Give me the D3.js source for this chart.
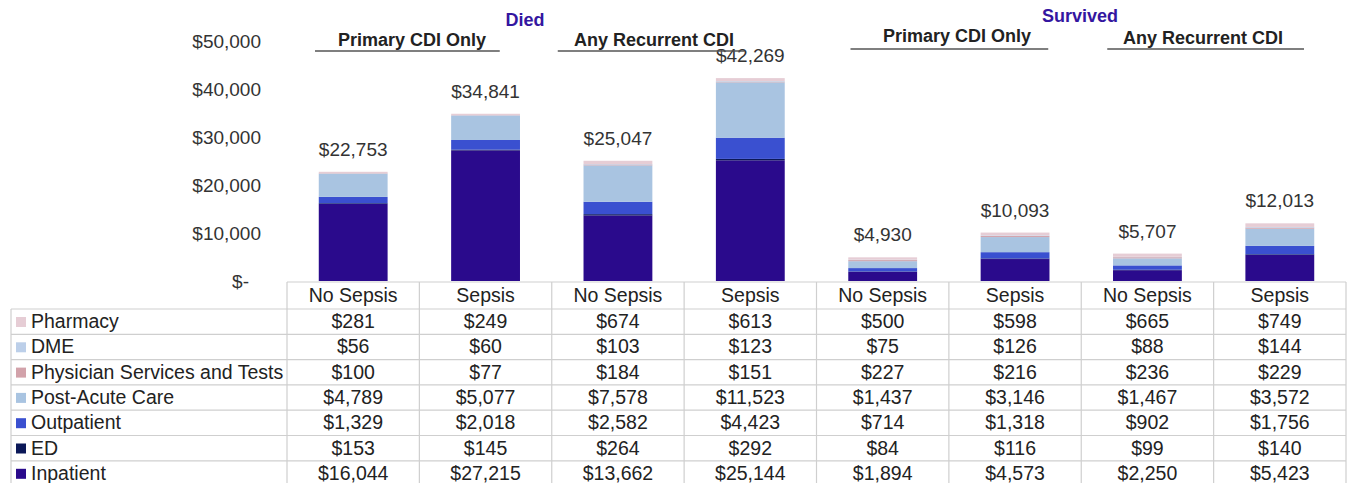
<!DOCTYPE html>
<html>
<head>
<meta charset="utf-8">
<script src="https://cdn.jsdelivr.net/npm/d3@7"></script>
<style>
  body { margin: 0; background: #fff; }
  svg text { font-family: "Liberation Sans", Arial, sans-serif; }
</style>
</head>
<body>
<div id="chart"></div>
<script>
// columns (bars), left to right
var categories = ["No Sepsis", "Sepsis", "No Sepsis", "Sepsis", "No Sepsis", "Sepsis", "No Sepsis", "Sepsis"];
var outcomes = ["Died", "Survived"];
var cdiGroups = ["Primary CDI Only", "Any Recurrent CDI", "Primary CDI Only", "Any Recurrent CDI"];

// cost components, in table order (top row first)
var seriesNames = ["Pharmacy", "DME", "Physician Services and Tests", "Post-Acute Care", "Outpatient", "ED", "Inpatient"];
var pharmacy   = [281, 249, 674, 613, 500, 598, 665, 749];
var dme        = [56, 60, 103, 123, 75, 126, 88, 144];
var physician  = [100, 77, 184, 151, 227, 216, 236, 229];
var postAcute  = [4789, 5077, 7578, 11523, 1437, 3146, 1467, 3572];
var outpatient = [1329, 2018, 2582, 4423, 714, 1318, 902, 1756];
var ed         = [153, 145, 264, 292, 84, 116, 99, 140];
var inpatient  = [16044, 27215, 13662, 25144, 1894, 4573, 2250, 5423];
var totals     = [22753, 34841, 25047, 42269, 4930, 10093, 5707, 12013];
var yTicks     = [0, 10000, 20000, 30000, 40000, 50000];

var seriesValues = [pharmacy, dme, physician, postAcute, outpatient, ed, inpatient];
var colors = ["#e6cdd5", "#bccfe9", "#d2a2aa", "#a9c4e1", "#3a50d0", "#0b1858", "#2a0a8c"];

var width = 1347, height = 483;

var svg = d3.select("#chart").append("svg")
    .attr("width", width)
    .attr("height", height);

var x = d3.scaleBand()
    .domain(d3.range(categories.length))
    .range([287, 1346]);

var y = d3.scaleLinear()
    .domain([0, 50000])
    .range([281, 41]);

var barW = x.bandwidth() * 0.52;

// build stack table
var rows = categories.map(function(c, i) {
    var r = { i: i };
    seriesNames.forEach(function(s, k) { r[s] = seriesValues[k][i]; });
    return r;
});
var stackKeys = seriesNames.slice().reverse(); // Inpatient at bottom
var stacked = d3.stack().keys(stackKeys)(rows);

// y axis
var yAxis = svg.append("g")
    .attr("transform", "translate(264,0)")
    .call(d3.axisLeft(y).tickValues(yTicks).tickSize(0)
        .tickFormat(function(d) { return d === 0 ? "$-" : "$" + d3.format(",")(d); }));
yAxis.select(".domain").remove();
yAxis.selectAll("text")
    .attr("font-size", 19)
    .attr("fill", "#333")
    .attr("dx", function(d) { return d === 0 ? -12 : 0; })
    .attr("font-family", "Liberation Sans, Arial, sans-serif");

// bars
svg.append("g").selectAll("g")
    .data(stacked)
    .enter().append("g")
    .attr("fill", function(d) { return colors[seriesNames.indexOf(d.key)]; })
    .selectAll("rect")
    .data(function(d) { return d; })
    .enter().append("rect")
    .attr("x", function(d) { return x(d.data.i) + (x.bandwidth() - barW) / 2; })
    .attr("width", barW)
    .attr("y", function(d) { return y(d[1]); })
    .attr("height", function(d) { return y(d[0]) - y(d[1]); });

// totals
svg.append("g").selectAll("text")
    .data(totals)
    .enter().append("text")
    .attr("x", function(d, i) { return x(i) + x.bandwidth() / 2; })
    .attr("y", function(d) { return y(d) - 16; })
    .attr("text-anchor", "middle")
    .attr("font-size", 19)
    .attr("fill", "#333")
    .text(function(d) { return "$" + d3.format(",")(d); });

// group headings
var headLayout = [
    { l: 28, r: 52, tx: 412, ty: 46, ly: 51 },
    { l: 6, r: 72, tx: 654, ty: 46, ly: 51 },
    { l: 34, r: 33, tx: 957, ty: 42, ly: 49 },
    { l: 26, r: 42, tx: 1203, ty: 44, ly: 49 }
];
cdiGroups.forEach(function(g, k) {
    var h = headLayout[k];
    var x0 = x(k * 2) + h.l, x1 = x(k * 2 + 1) + x.bandwidth() - h.r;
    svg.append("line")
        .attr("x1", x0).attr("x2", x1)
        .attr("y1", h.ly).attr("y2", h.ly)
        .attr("stroke", "#555").attr("stroke-width", 1.5);
    svg.append("text")
        .attr("x", h.tx).attr("y", h.ty)
        .attr("text-anchor", "middle")
        .attr("font-size", 18).attr("font-weight", "bold")
        .attr("fill", "#222")
        .text(g);
});
var outLayout = [{ tx: 525, ty: 26 }, { tx: 1080, ty: 22 }];
outcomes.forEach(function(o, k) {
    svg.append("text")
        .attr("x", outLayout[k].tx).attr("y", outLayout[k].ty)
        .attr("text-anchor", "middle")
        .attr("font-size", 18).attr("font-weight", "bold")
        .attr("fill", "#3416a0")
        .text(o);
});

// data table
var tableLeft = 11, headTop = 282, rowTop = 309, rowH = 25.3;
var grid = svg.append("g").attr("stroke", "#cfcfcf").attr("stroke-width", 1.2);
var tableRight = x.range()[1];

// header row
grid.append("line").attr("x1", x(0)).attr("x2", tableRight).attr("y1", headTop).attr("y2", headTop);
for (var r = 0; r <= seriesNames.length; r++) {
    var yy = rowTop + r * rowH;
    grid.append("line").attr("x1", tableLeft).attr("x2", tableRight).attr("y1", yy).attr("y2", yy);
}
grid.append("line").attr("x1", tableLeft).attr("x2", tableLeft)
    .attr("y1", rowTop).attr("y2", rowTop + seriesNames.length * rowH);
d3.range(categories.length + 1).forEach(function(i) {
    var xx = i < categories.length ? x(i) : tableRight;
    grid.append("line").attr("x1", xx).attr("x2", xx)
        .attr("y1", headTop).attr("y2", rowTop + seriesNames.length * rowH);
});

svg.append("g").selectAll("text")
    .data(categories)
    .enter().append("text")
    .attr("x", function(d, i) { return x(i) + x.bandwidth() / 2; })
    .attr("y", headTop + 20)
    .attr("text-anchor", "middle")
    .attr("font-size", 19.5)
    .attr("fill", "#222")
    .text(function(d) { return d; });

seriesNames.forEach(function(s, k) {
    var top = rowTop + k * rowH;
    svg.append("rect")
        .attr("x", 16).attr("y", top + 8)
        .attr("width", 10).attr("height", 10)
        .attr("fill", colors[k]);
    svg.append("text")
        .attr("x", 31).attr("y", top + 19)
        .attr("font-size", 19.5)
        .attr("fill", "#222")
        .text(s);
    svg.append("g").selectAll("text")
        .data(seriesValues[k])
        .enter().append("text")
        .attr("x", function(d, i) { return x(i) + x.bandwidth() / 2; })
        .attr("y", top + 19)
        .attr("text-anchor", "middle")
        .attr("font-size", 19.5)
        .attr("fill", "#222")
        .text(function(d) { return "$" + d3.format(",")(d); });
});
</script>
</body>
</html>
